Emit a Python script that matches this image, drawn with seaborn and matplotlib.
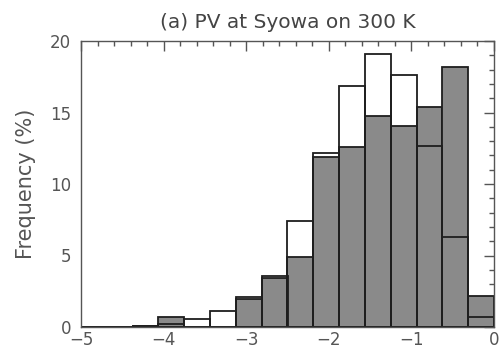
import numpy as np
import pandas as pd
import seaborn as sns
import matplotlib
matplotlib.use("Agg")
import matplotlib.pyplot as plt
from matplotlib.ticker import MultipleLocator

# PV histogram bins (16 equal bins from -5 to 0)
bin_edges = [-5.0, -4.6875, -4.375, -4.0625, -3.75, -3.4375, -3.125, -2.8125,
             -2.5, -2.1875, -1.875, -1.5625, -1.25, -0.9375, -0.625, -0.3125, 0.0]
# frequency (%) of the open (outline) distribution
open_pct = [0.0, 0.0, 0.07, 0.2, 0.55, 1.12, 2.12, 3.55,
            7.39, 12.19, 16.85, 19.07, 17.62, 12.68, 6.29, 0.72]
# frequency (%) of the shaded distribution
shaded_pct = [0.0, 0.0, 0.05, 0.7, 0.0, 0.0, 1.96, 3.4,
              4.9, 11.89, 12.6, 14.73, 14.03, 15.41, 18.2, 2.14]
x_ticks = [-5, -4, -3, -2, -1, 0]
y_ticks = [0, 5, 10, 15, 20]

sns.set_style("white")
plt.rcParams["font.family"] = ["DejaVu Sans"]

centers = [(a + b) / 2 for a, b in zip(bin_edges[:-1], bin_edges[1:])]
df = pd.DataFrame({"pv": centers, "open": open_pct, "shaded": shaded_pct})

fig = plt.figure(figsize=(5.02, 3.52), dpi=100)
ax = fig.add_axes([81 / 502, 1 - 327 / 352, (494 - 81) / 502, (327 - 41) / 352])

edge = "#1e1e1e"
sns.histplot(data=df, x="pv", weights="shaded", bins=bin_edges, stat="count",
             color="#8a8a8a", alpha=1.0, edgecolor=edge, linewidth=1.3, ax=ax)
sns.histplot(data=df, x="pv", weights="open", bins=bin_edges, stat="count",
             fill=False, color=edge, linewidth=1.3, ax=ax)

ax.set_xlim(-5, 0)
ax.set_ylim(0, 20)
ax.set_xticks(x_ticks)
ax.set_xticklabels([f"\u2212{abs(t)}" if t < 0 else f"{t}" for t in x_ticks])
ax.set_yticks(y_ticks)
ax.xaxis.set_minor_locator(MultipleLocator(0.2))
ax.yaxis.set_minor_locator(MultipleLocator(1))
ax.tick_params(which="both", direction="in", top=True, right=True,
               color="#555555", width=1.0)
ax.tick_params(which="major", length=7, labelsize=12, labelcolor="#555555")
ax.tick_params(axis="x", which="major", pad=3)
ax.tick_params(axis="y", which="major", pad=7)
ax.tick_params(which="minor", length=3.5)
for s in ax.spines.values():
    s.set_color("#555555")
    s.set_linewidth(1.0)

ax.set_xlabel("")
ax.set_ylabel("Frequency (%)", fontsize=15, color="#555555", labelpad=10)
ax.set_title("(a) PV at Syowa on 300 K", fontsize=14.5, color="#444444", pad=9)

fig.savefig("out.png", dpi=100)
